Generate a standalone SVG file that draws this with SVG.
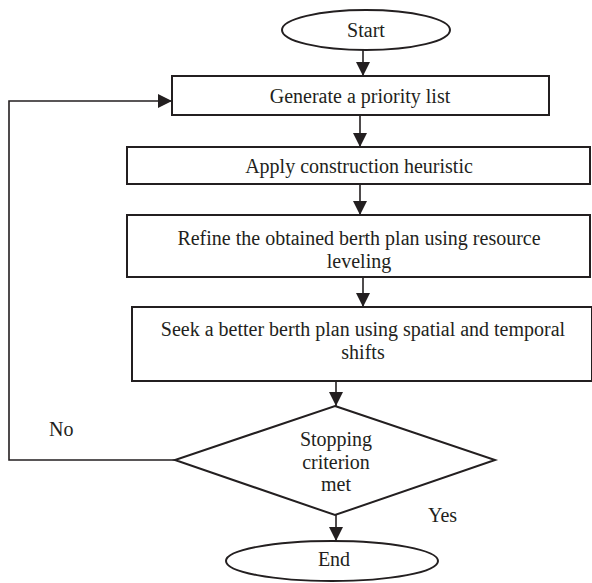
<svg xmlns="http://www.w3.org/2000/svg" width="592" height="583" viewBox="0 0 592 583">
<style>
.shape{fill:#fff;stroke:#231f20;stroke-width:2}
.line{fill:none;stroke:#231f20;stroke-width:1.6}
text{font-family:'Liberation Serif','Times New Roman',Tinos,serif;font-size:20px;fill:#231f20}
.t{text-anchor:middle}
</style>
<defs>
<marker id="ah" markerWidth="14" markerHeight="14" refX="14" refY="7" orient="auto" markerUnits="userSpaceOnUse">
<path d="M0,0 L14,7 L0,14 Z" fill="#231f20"/>
</marker>
</defs>
<rect width="592" height="583" fill="#fff"/>
<g id="connectors">
<line class="line" x1="363" y1="50" x2="363" y2="76" marker-end="url(#ah)"/>
<line class="line" x1="360" y1="115" x2="360" y2="147" marker-end="url(#ah)"/>
<line class="line" x1="360" y1="184" x2="360" y2="215" marker-end="url(#ah)"/>
<line class="line" x1="363" y1="277" x2="363" y2="307" marker-end="url(#ah)"/>
<line class="line" x1="336" y1="381" x2="336" y2="406" marker-end="url(#ah)"/>
<line class="line" x1="336" y1="515" x2="336" y2="541" marker-end="url(#ah)"/>
<polyline class="line" points="175,460 9,460 9,101 172,101" marker-end="url(#ah)"/>
<text x="49" y="436">No</text>
<text x="428" y="522">Yes</text>
</g>
<g id="start">
<ellipse class="shape" cx="366" cy="30" rx="84" ry="20"/>
<text class="t" x="366" y="37">Start</text>
</g>
<g id="generate">
<rect class="shape" x="172" y="76" width="377" height="39"/>
<text class="t" x="360" y="103">Generate a priority list</text>
</g>
<g id="apply">
<rect class="shape" x="127" y="147" width="463" height="37"/>
<text class="t" x="359" y="173">Apply construction heuristic</text>
</g>
<g id="refine">
<rect class="shape" x="127" y="215" width="463" height="62"/>
<text class="t" x="359" y="245">Refine the obtained berth plan using resource</text>
<text class="t" x="359" y="268">leveling</text>
</g>
<g id="seek">
<rect class="shape" x="132" y="307" width="460" height="74"/>
<text class="t" x="363" y="336">Seek a better berth plan using spatial and temporal</text>
<text class="t" x="363" y="359">shifts</text>
</g>
<g id="decision">
<polygon class="shape" points="335,406 495,460 335,515 175,460"/>
<text class="t" x="336" y="446">Stopping</text>
<text class="t" x="336" y="469">criterion</text>
<text class="t" x="336" y="491">met</text>
</g>
<g id="end">
<ellipse class="shape" cx="332" cy="561" rx="106" ry="20"/>
<text class="t" x="334" y="566">End</text>
</g>
</svg>
